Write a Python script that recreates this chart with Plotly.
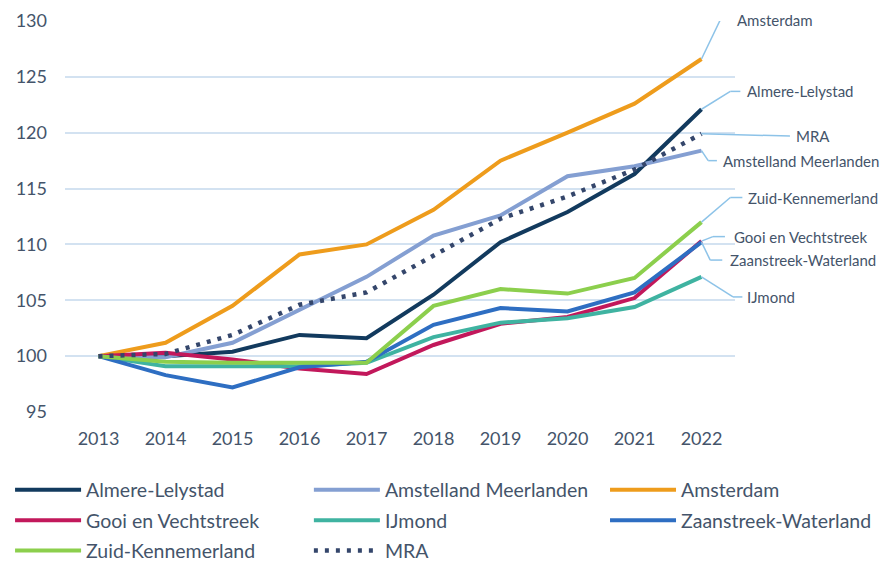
import plotly.graph_objects as go

years = [2013, 2014, 2015, 2016, 2017, 2018, 2019, 2020, 2021, 2022]

almere_lelystad = [100, 100.0, 100.4, 101.9, 101.6, 105.5, 110.2, 112.9, 116.3, 122.1]
amstelland_meerlanden = [100, 99.9, 101.2, 104.1, 107.1, 110.8, 112.6, 116.1, 117.0, 118.4]
amsterdam = [100, 101.2, 104.5, 109.1, 110.0, 113.1, 117.5, 120.0, 122.6, 126.6]
gooi_en_vechtstreek = [100, 100.3, 99.7, 98.9, 98.4, 101.0, 102.9, 103.5, 105.2, 110.3]
ijmond = [100, 99.1, 99.1, 99.1, 99.4, 101.7, 103.0, 103.4, 104.4, 107.1]
zaanstreek_waterland = [100, 98.3, 97.2, 99.0, 99.5, 102.8, 104.3, 104.0, 105.7, 110.2]
zuid_kennemerland = [100, 99.5, 99.4, 99.4, 99.4, 104.5, 106.0, 105.6, 107.0, 112.0]
mra = [100, 100.2, 101.9, 104.6, 105.7, 109.0, 112.3, 114.3, 116.7, 119.9]

series_names = ["Almere-Lelystad", "Amstelland Meerlanden", "Amsterdam",
                "Gooi en Vechtstreek", "IJmond", "Zaanstreek-Waterland",
                "Zuid-Kennemerland", "MRA"]
series_values = [almere_lelystad, amstelland_meerlanden, amsterdam,
                 gooi_en_vechtstreek, ijmond, zaanstreek_waterland,
                 zuid_kennemerland, mra]
series_colors = ["#123A5E", "#849FD2", "#EE9C1C", "#C2185B",
                 "#3FB3A1", "#2E6EC2", "#8CCF4D", "#34466B"]
series_legend = ["legend", "legend2", "legend3", "legend", "legend2", "legend3",
                 "legend", "legend2"]

y_min, y_max = 95, 130
y_ticks = [95, 100, 105, 110, 115, 120, 125, 130]
x_min, x_max = 2012.5, 2022.5

# right-hand labels: (label x paper, label y in value units, elbow x paper, leader end x paper)
label_layout = {
    "Amsterdam":             (1.000, 130.1, 0.978, 0.993),
    "Almere-Lelystad":       (1.015, 123.7, 0.993, 1.008),
    "MRA":                   (1.088, 119.7, None, 1.082),
    "Amstelland Meerlanden": (0.979, 117.5, 0.960, 0.973),
    "Zuid-Kennemerland":     (1.016, 114.2, 0.993, 1.011),
    "Gooi en Vechtstreek":   (0.996, 110.7, 0.967, 0.985),
    "Zaanstreek-Waterland":  (0.990, 108.6, 0.963, 0.981),
    "IJmond":                (1.015, 105.3, 0.997, 1.011),
}

font_family = "Lato, 'Open Sans', sans-serif"
text_color = "#44546A"
leader_color = "#8DC3E8"

fig = go.Figure()
for name, vals, col, leg in zip(series_names, series_values, series_colors, series_legend):
    is_mra = name == "MRA"
    fig.add_trace(go.Scatter(
        x=years, y=vals, name=name, mode="lines",
        line=dict(color=col, width=4.5 if is_mra else 4, dash="4px,7px" if is_mra else "solid"),
        legend=leg, legendgroup=name,
    ))

shapes = []
annotations = []
end_x = (years[-1] - x_min) / (x_max - x_min)
for name, vals in zip(series_names, series_values):
    lx, ly, elbow, lend = label_layout[name]
    end_val = vals[-1]
    lstyle = dict(color=leader_color, width=1.5)
    if elbow is None:
        shapes.append(dict(type="line", xref="paper", yref="y", x0=end_x, y0=end_val,
                           x1=lend, y1=ly, line=lstyle))
    else:
        shapes.append(dict(type="line", xref="paper", yref="y", x0=end_x, y0=end_val,
                           x1=elbow, y1=ly, line=lstyle))
        shapes.append(dict(type="line", xref="paper", yref="y", x0=elbow, y0=ly,
                           x1=lend, y1=ly, line=lstyle))
    annotations.append(dict(x=lx, y=(ly - y_min) / (y_max - y_min), xref="paper", yref="paper",
                            text=name, showarrow=False, xanchor="left", yanchor="middle",
                            font=dict(family=font_family, size=15, color=text_color)))

legend_common = dict(orientation="v", yanchor="top", y=-0.150, xanchor="left",
                     itemwidth=66, traceorder="grouped", tracegroupgap=2,
                     bgcolor="rgba(0,0,0,0)",
                     font=dict(family=font_family, size=19.5, color=text_color))

# the page adds an 8px body margin, so the figure is 8px smaller and margins shifted
fig.update_layout(
    width=882, height=554,
    margin=dict(l=57, r=155, t=13, b=150, autoexpand=False),
    paper_bgcolor="white", plot_bgcolor="white",
    font=dict(family=font_family, size=18, color=text_color),
    showlegend=True,
    legend=dict(x=-0.082, **legend_common),
    legend2=dict(x=0.364, **legend_common),
    legend3=dict(x=0.806, **legend_common),
    shapes=shapes,
    annotations=annotations,
)
fig.update_xaxes(range=[x_min, x_max], tickvals=years, ticktext=[str(y) for y in years],
                 showgrid=False, zeroline=False, showline=False, ticks="",
                 ticklabelstandoff=14, tickfont=dict(size=18, color=text_color))
fig.update_yaxes(range=[y_min, y_max], tickvals=y_ticks, showgrid=True, gridcolor="#D3E2F1",
                 gridwidth=1.6, zeroline=False, showline=False, ticks="",
                 ticklabelstandoff=17, tickfont=dict(size=18, color=text_color))

fig.write_html("out.html")
